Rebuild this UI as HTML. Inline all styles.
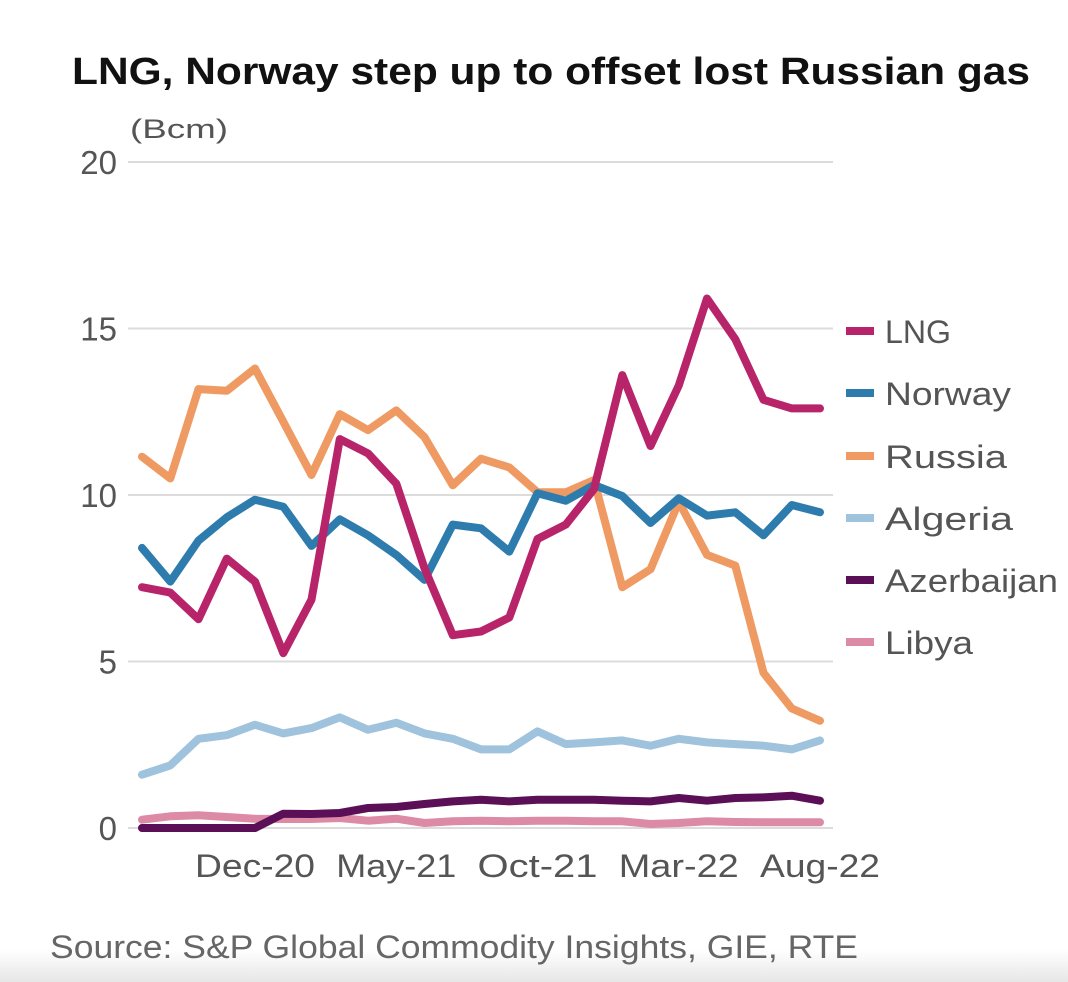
<!DOCTYPE html>
<html><head><meta charset="utf-8"><style>
html,body{margin:0;padding:0;background:#fff;}
svg{display:block;font-family:"Liberation Sans",sans-serif;}
</style></head><body>
<svg id="chart" width="1068" height="982" viewBox="0 0 1068 982">
<defs><linearGradient id="bg" x1="0" y1="0" x2="0" y2="1"><stop offset="0" stop-color="#fff"/><stop offset="1" stop-color="#e6e6e6"/></linearGradient></defs>
<rect x="0" y="950" width="1068" height="32" fill="url(#bg)"/>
<text x="72" y="84" font-size="38" font-weight="bold" fill="#111" textLength="958" lengthAdjust="spacingAndGlyphs">LNG, Norway step up to offset lost Russian gas</text>
<text x="130" y="138" font-size="27" fill="#555" textLength="98" lengthAdjust="spacingAndGlyphs">(Bcm)</text>
<g id="grid"></g><g id="lines"></g><g id="legend"></g>
<text x="50" y="958" font-size="32" fill="#666" textLength="808" lengthAdjust="spacingAndGlyphs">Source: S&amp;P Global Commodity Insights, GIE, RTE</text>
</svg>
<script>
const months=25;
const yTicks=[0,5,10,15,20];
const xTickIdx=[4,9,14,19,24];
const xTickLabels=["Dec-20","May-21","Oct-21","Mar-22","Aug-22"];
const seriesNames=["LNG","Norway","Russia","Algeria","Azerbaijan","Libya"];
const seriesColors=["#b8246a","#2e7cad","#ee9a62","#9fc2dd","#5a0f56","#dc8aa6"];
const lng=[7.23,7.07,6.27,8.09,7.4,5.25,6.86,11.68,11.25,10.34,7.8,5.79,5.9,6.32,8.68,9.11,10.18,13.6,11.47,13.29,15.9,14.68,12.86,12.6,12.6];
const norway=[8.41,7.4,8.63,9.33,9.86,9.65,8.47,9.27,8.79,8.2,7.45,9.11,9.0,8.3,10.05,9.83,10.3,9.97,9.16,9.9,9.38,9.48,8.79,9.7,9.48];
const russia=[11.15,10.5,13.18,13.13,13.8,12.2,10.6,12.43,11.95,12.54,11.74,10.29,11.09,10.83,10.08,10.08,10.45,7.23,7.77,9.8,8.2,7.88,4.66,3.59,3.22];
const algeria=[1.6,1.88,2.68,2.79,3.1,2.84,3.0,3.32,2.95,3.16,2.84,2.68,2.36,2.36,2.9,2.52,2.57,2.63,2.47,2.68,2.57,2.52,2.47,2.36,2.63];
const azerbaijan=[0,0,0,0,0,0.43,0.42,0.45,0.6,0.63,0.72,0.8,0.85,0.8,0.85,0.85,0.85,0.82,0.8,0.9,0.82,0.9,0.92,0.97,0.82];
const libya=[0.25,0.35,0.38,0.33,0.28,0.27,0.27,0.3,0.22,0.28,0.15,0.2,0.22,0.2,0.22,0.22,0.2,0.2,0.12,0.15,0.2,0.18,0.17,0.17,0.17];
const seriesData=[lng,norway,russia,algeria,azerbaijan,libya];
const legendWidths=[66,126,122,128,173,88];
const NS="http://www.w3.org/2000/svg";
const X=i=>142+i*(820-142)/(months-1);
const Y=v=>828-v*(828-162)/20;
function mk(tag,attrs,parent,text){const e=document.createElementNS(NS,tag);for(const k in attrs)e.setAttribute(k,attrs[k]);if(text!==undefined)e.textContent=text;parent.appendChild(e);return e;}
const grid=document.getElementById('grid');
yTicks.forEach(t=>{
  const l=mk('line',{x1:128,x2:833,y1:Y(t),y2:Y(t),stroke:'#dcdcdc','stroke-width':2},grid);
  
  
  const tx=mk('text',{x:117,y:Y(t)+12,'font-size':33,fill:'#555','text-anchor':'end'},grid,String(t));
  
  
});
xTickIdx.forEach((ix,k)=>{
  const tx=mk('text',{x:X(ix),y:877,'font-size':32,fill:'#555','text-anchor':'middle',textLength:120,lengthAdjust:'spacingAndGlyphs'},grid,xTickLabels[k]);
  
  
});
const lines=document.getElementById('lines');
for(let s=seriesData.length-1;s>=0;s--){
  const d=seriesData[s].map((v,i)=>(i?'L':'M')+X(i).toFixed(1)+','+Y(v).toFixed(1)).join(' ');
  const p=mk('path',{d:d,fill:'none',stroke:seriesColors[s],'stroke-width':8,'stroke-linejoin':'round','stroke-linecap':'round'},lines);
  
  
}
const legend=document.getElementById('legend');
const ly=[331,393,456,518,580,642];
seriesNames.forEach((n,i)=>{
  const g=mk('g',{},legend);
  
  
  mk('line',{x1:846,x2:874,y1:ly[i],y2:ly[i],stroke:seriesColors[i],'stroke-width':8},g);
  mk('text',{x:885,y:ly[i]+12,'font-size':32,fill:'#555',textLength:legendWidths[i],lengthAdjust:'spacingAndGlyphs'},g,n);
});
</script>
</body></html>
